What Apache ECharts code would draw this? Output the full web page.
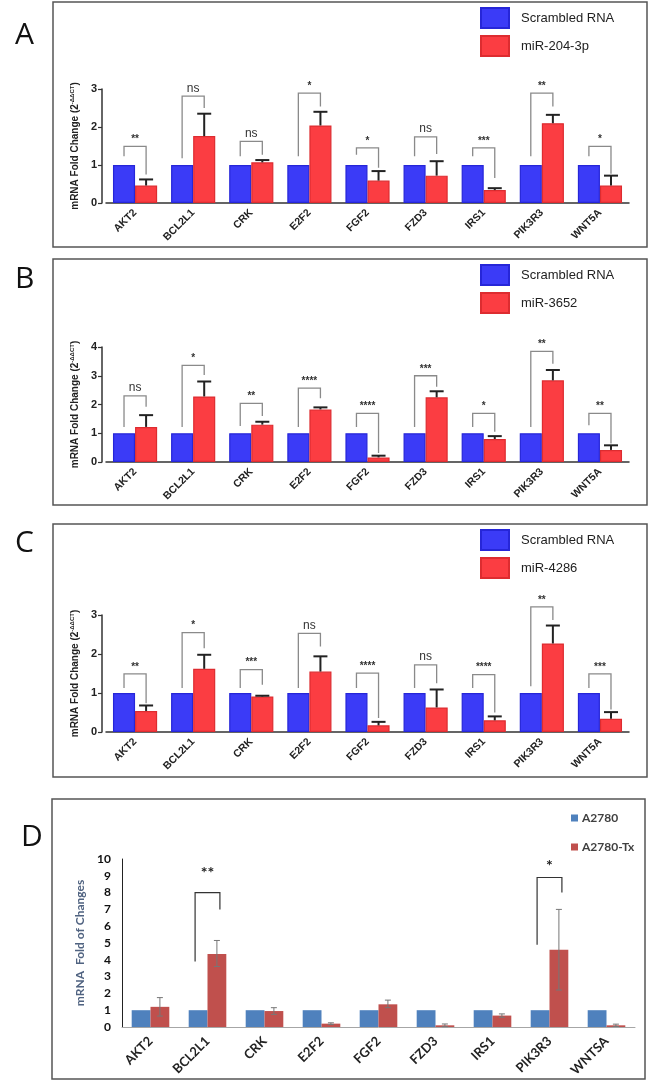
<!DOCTYPE html>
<html><head><meta charset="utf-8">
<script src="https://cdn.jsdelivr.net/npm/echarts@6/dist/echarts.min.js"></script>
<style>html,body{margin:0;padding:0;background:#fff}#c{width:649px;height:1082px}</style>
</head><body><div id="c"></div>
<script>
// ---------- DATA ----------
const categories = ['AKT2','BCL2L1','CRK','E2F2','FGF2','FZD3','IRS1','PIK3R3','WNT5A'];
const categoriesD = ['AKT2','BCL2L1','CRK','E2F2','FGF2','FZD3','IRS1','PIK3R3','WNTSA'];

// Panel A
const scrambledA = [1,1,1,1,1,1,1,1,1];
const mirA = [0.46,1.76,1.07,2.04,0.59,0.72,0.34,2.10,0.46];
const errA = [0.16,0.59,0.06,0.36,0.25,0.38,0.05,0.22,0.26];
const sigA = ['**','ns','ns','*','*','ns','***','**','*'];
const brTopA = [1.49,2.81,1.62,2.89,1.45,1.74,1.45,2.89,1.49];
const brLeftA = [1.23,1.18,1.23,1.23,1.27,1.23,1.23,1.23,1.23];
const brRightA = [0.75,2.50,1.27,2.54,0.93,1.29,0.66,2.54,0.77];

// Panel B
const scrambledB = [1,1,1,1,1,1,1,1,1];
const mirB = [1.22,2.28,1.30,1.83,0.16,2.25,0.80,2.84,0.42];
const errB = [0.41,0.52,0.10,0.07,0.06,0.21,0.10,0.36,0.16];
const sigB = ['ns','*','**','****','****','***','*','**','**'];
const brTopB = [2.30,3.36,2.04,2.57,1.69,3.00,1.69,3.85,1.69];
const brLeftB = [1.22,1.22,1.25,1.22,1.22,1.22,1.22,1.22,1.28];
const brRightB = [1.92,3.03,1.60,2.22,0.31,2.62,1.05,3.42,0.64];

// Panel C
const scrambledC = [1,1,1,1,1,1,1,1,1];
const mirC = [0.54,1.62,0.91,1.55,0.17,0.63,0.30,2.27,0.34];
const errC = [0.14,0.36,0.02,0.39,0.09,0.46,0.10,0.46,0.17];
const sigC = ['**','*','***','ns','****','ns','****','**','***'];
const brTopC = [1.49,2.55,1.60,2.53,1.51,1.72,1.47,3.21,1.49];
const brLeftC = [1.13,1.13,1.13,1.13,1.13,1.13,1.13,1.17,1.13];
const brRightC = [0.74,2.15,1.21,2.19,0.36,1.25,0.50,2.87,0.58];

// Panel D
const a2780 = [1,1,1,1,1,1,1,1,1];
const a2780Tx = [1.20,4.35,0.95,0.20,1.35,0.10,0.68,4.60,0.10];
const txLow = [0.65,3.60,0.75,0.15,1.15,0.02,0.58,2.20,0.03];
const txHigh = [1.75,5.15,1.15,0.25,1.60,0.18,0.78,7.00,0.17];
const sigDIdx = [1,7];
const sigD = ['**','*'];
const brTopD = [8.0,8.9];
const brLeftD = [3.9,4.9];
const brRightD = [7.0,8.0];
const sigPosD = [9.2,9.6];

// ---------- STYLE ----------
const AR = 'Liberation Sans, Arial, sans-serif';
const CAL = 'Lato, Open Sans, sans-serif';
const BLUE = '#3b3bf7', BLUE_B = '#2626d8';
const RED = '#fb3d42', RED_B = '#dd2c30';
const DBLUE = '#4f81bd', DRED = '#c0504d';

const chart = echarts.init(document.getElementById('c'), null, {renderer:'canvas'});

const gridsABC = [
  {left:106, right:20, top:89, height:114},
  {left:106, right:20, top:347, height:115},
  {left:106, right:20, top:615, height:117}
];
const gridD = {left:122, right:14, top:859, height:168};

function xAxisABC(gi){
  return {type:'category', gridIndex:gi, data:categories,
    axisLine:{lineStyle:{color:'#333', width:1.5}},
    axisTick:{alignWithLabel:true, length:4, lineStyle:{color:'#333', width:1.2}},
    axisLabel:{rotate:45, fontSize:10.5, fontWeight:'bold', fontFamily:AR, color:'#222', margin:8}};
}
function yAxisABC(gi, max){
  return {type:'value', gridIndex:gi, min:0, max:max, interval:1, offset:4,
    name:'{a|mRNA Fold Change (2}{s|-ΔΔCT}{a|)}', nameLocation:'middle', nameGap:18,
    nameTextStyle:{rich:{a:{fontSize:10, fontWeight:'bold', fontFamily:AR, color:'#222'},
      s:{fontSize:6, fontWeight:'bold', fontFamily:AR, color:'#222', padding:[0,0,6,0]}}},
    splitLine:{show:false},
    axisLine:{show:true, lineStyle:{color:'#333', width:1.5}},
    axisTick:{show:true, length:4, lineStyle:{color:'#333', width:1.2}},
    axisLabel:{fontSize:11, fontWeight:'bold', fontFamily:AR, color:'#222', margin:5}};
}

function bracketSeries(gi, tops, lefts, rights, labels, off){
  return {type:'custom', xAxisIndex:gi, yAxisIndex:gi, clip:false, silent:true, z:5,
    data: tops.map((t,i)=>[i, t, lefts[i], rights[i]]),
    renderItem:function(params, api){
      const i = api.value(0);
      const band = api.size([1,0])[0];
      const dx = band*off;
      const pt = api.coord([i, api.value(1)]);
      const yl = api.coord([i, api.value(2)])[1];
      const yr = api.coord([i, api.value(3)])[1];
      const xl = pt[0]-dx, xr = pt[0]+dx;
      const lab = labels[params.dataIndex];
      return {type:'group', children:[
        {type:'polyline', shape:{points:[[xl,yl],[xl,pt[1]],[xr,pt[1]],[xr,yr]]},
          style:{stroke:'#8a8a8a', lineWidth:1.3, fill:null}},
        {type:'text', x:pt[0], y:pt[1]-2, style:{text:lab, textAlign:'center', textVerticalAlign:'bottom',
          fontSize: lab==='ns'?12:10, fontWeight: lab==='ns'?'normal':'bold', fontFamily:AR, fill:'#333'}}
      ]};
    }};
}
function errSeriesABC(gi, vals, errs, off){
  return {type:'custom', xAxisIndex:gi, yAxisIndex:gi, clip:false, silent:true, z:4,
    data: vals.map((v,i)=>[i, v, v+errs[i]]),
    renderItem:function(params, api){
      const i = api.value(0);
      const band = api.size([1,0])[0];
      const dx = band*off;
      const p1 = api.coord([i, api.value(1)]);
      const p2 = api.coord([i, api.value(2)]);
      const x = p1[0]+dx;
      return {type:'group', children:[
        {type:'line', shape:{x1:x,y1:p1[1],x2:x,y2:p2[1]}, style:{stroke:'#222', lineWidth:2}},
        {type:'line', shape:{x1:x-7,y1:p2[1],x2:x+7,y2:p2[1]}, style:{stroke:'#222', lineWidth:2}}
      ]};
    }};
}
function barsABC(gi, name1, v1, name2, v2){
  return [
    {type:'bar', name:name1, xAxisIndex:gi, yAxisIndex:gi, data:v1, barWidth:'38%', barGap:'0%',
      itemStyle:{color:BLUE, borderColor:BLUE_B, borderWidth:1.2}},
    {type:'bar', name:name2, xAxisIndex:gi, yAxisIndex:gi, data:v2, barWidth:'38%', barGap:'0%',
      itemStyle:{color:RED, borderColor:RED_B, borderWidth:1.2}}
  ];
}
function legendABC(top, name2){
  return {data:['Scrambled RNA', name2], orient:'vertical', left:480, top:top, padding:0,
    itemWidth:28, itemHeight:20, itemGap:6, icon:'rect', selectedMode:false,
    textStyle:{fontSize:13, fontFamily:AR, color:'#222', padding:[0,0,0,7]}};
}

const OFF = 0.19, OFFD = 0.165;

const option = {
  animation:false,
  backgroundColor:'#fff',
  grid:[...gridsABC, gridD],
  legend:[legendABC(7,'miR-204-3p'), legendABC(264,'miR-3652'), legendABC(529,'miR-4286'),
    {data:['A2780','A2780-Tx'], orient:'vertical', left:571, top:812, padding:0, itemWidth:7, itemHeight:7,
     itemGap:17, icon:'rect', selectedMode:false,
     textStyle:{fontSize:12, fontWeight:'bold', fontFamily:CAL, color:'#404040', padding:[0,0,0,-1]}}],
  xAxis:[xAxisABC(0), xAxisABC(1), xAxisABC(2),
    {type:'category', gridIndex:3, data:categoriesD,
     axisLine:{lineStyle:{color:'#a6a6a6', width:1}}, axisTick:{show:false},
     axisLabel:{rotate:45, fontSize:13, fontWeight:'bold', fontFamily:CAL, color:'#222', margin:12}}],
  yAxis:[yAxisABC(0,3), yAxisABC(1,4), yAxisABC(2,3),
    {type:'value', gridIndex:3, min:0, max:10, interval:1,
     name:'mRNA  Fold of Changes', nameLocation:'middle', nameGap:34,
     nameTextStyle:{fontSize:12, fontFamily:CAL, color:'#506381', fontWeight:'bold'},
     splitLine:{show:false}, axisLine:{show:true, lineStyle:{color:'#222', width:1}},
     axisTick:{show:false},
     axisLabel:{fontSize:12, fontWeight:'bold', fontFamily:CAL, color:'#111', margin:11}}],
  graphic:[
    {type:'rect', shape:{x:53,y:2,width:594,height:245}, style:{fill:'none', stroke:'#555', lineWidth:1.5}},
    {type:'rect', shape:{x:53,y:259,width:594,height:246}, style:{fill:'none', stroke:'#555', lineWidth:1.5}},
    {type:'rect', shape:{x:53,y:524,width:594,height:253}, style:{fill:'none', stroke:'#555', lineWidth:1.5}},
    {type:'rect', shape:{x:52,y:799,width:593,height:280}, style:{fill:'none', stroke:'#555', lineWidth:1.5}},
    {type:'text', left:15, top:20, style:{text:'A', fontSize:30, fontFamily:'Open Sans, sans-serif', fill:'#111'}},
    {type:'text', left:15, top:264, style:{text:'B', fontSize:30, fontFamily:'Open Sans, sans-serif', fill:'#111'}},
    {type:'text', left:15, top:528, style:{text:'C', fontSize:30, fontFamily:'Open Sans, sans-serif', fill:'#111'}},
    {type:'text', left:21, top:822, style:{text:'D', fontSize:30, fontFamily:'Open Sans, sans-serif', fill:'#111'}}
  ],
  series:[
    ...barsABC(0,'Scrambled RNA',scrambledA,'miR-204-3p',mirA),
    errSeriesABC(0, mirA, errA, OFF),
    bracketSeries(0, brTopA, brLeftA, brRightA, sigA, OFF),
    ...barsABC(1,'Scrambled RNA',scrambledB,'miR-3652',mirB),
    errSeriesABC(1, mirB, errB, OFF),
    bracketSeries(1, brTopB, brLeftB, brRightB, sigB, OFF),
    ...barsABC(2,'Scrambled RNA',scrambledC,'miR-4286',mirC),
    errSeriesABC(2, mirC, errC, OFF),
    bracketSeries(2, brTopC, brLeftC, brRightC, sigC, OFF),
    {type:'bar', name:'A2780', xAxisIndex:3, yAxisIndex:3, data:a2780, barWidth:'33%', barGap:'0%',
      itemStyle:{color:DBLUE}},
    {type:'bar', name:'A2780-Tx', xAxisIndex:3, yAxisIndex:3, data:a2780Tx, barWidth:'33%', barGap:'0%',
      itemStyle:{color:DRED}},
    {type:'custom', xAxisIndex:3, yAxisIndex:3, clip:false, silent:true, z:4,
      data: a2780Tx.map((v,i)=>[i, txLow[i], txHigh[i]]),
      renderItem:function(params, api){
        const i = api.value(0);
        const band = api.size([1,0])[0];
        const dx = band*OFFD;
        const p1 = api.coord([i, api.value(1)]);
        const p2 = api.coord([i, api.value(2)]);
        const x = p1[0]+dx;
        return {type:'group', children:[
          {type:'line', shape:{x1:x,y1:p1[1],x2:x,y2:p2[1]}, style:{stroke:'#777', lineWidth:1}},
          {type:'line', shape:{x1:x-3,y1:p1[1],x2:x+3,y2:p1[1]}, style:{stroke:'#777', lineWidth:1}},
          {type:'line', shape:{x1:x-3,y1:p2[1],x2:x+3,y2:p2[1]}, style:{stroke:'#777', lineWidth:1}}
        ]};
      }},
    {type:'custom', xAxisIndex:3, yAxisIndex:3, clip:false, silent:true, z:5,
      data: sigDIdx.map((c,k)=>[c, brTopD[k], brLeftD[k], brRightD[k], sigPosD[k]]),
      renderItem:function(params, api){
        const i = api.value(0);
        const band = api.size([1,0])[0];
        const dx = band*OFFD;
        const pt = api.coord([i, api.value(1)]);
        const yl = api.coord([i, api.value(2)])[1];
        const yr = api.coord([i, api.value(3)])[1];
        const ys = api.coord([i, api.value(4)])[1];
        const xl = pt[0]-dx-3, xr = pt[0]+dx+3;
        return {type:'group', children:[
          {type:'polyline', shape:{points:[[xl,yl],[xl,pt[1]],[xr,pt[1]],[xr,yr]]},
            style:{stroke:'#333', lineWidth:1.2, fill:null}},
          {type:'text', x:pt[0], y:ys, style:{text:sigD[params.dataIndex], textAlign:'center', textVerticalAlign:'middle',
            fontSize:16, fontWeight:'bold', fontFamily:CAL, fill:'#222'}}
        ]};
      }}
  ]
};
chart.setOption(option);
</script>
</body></html>
